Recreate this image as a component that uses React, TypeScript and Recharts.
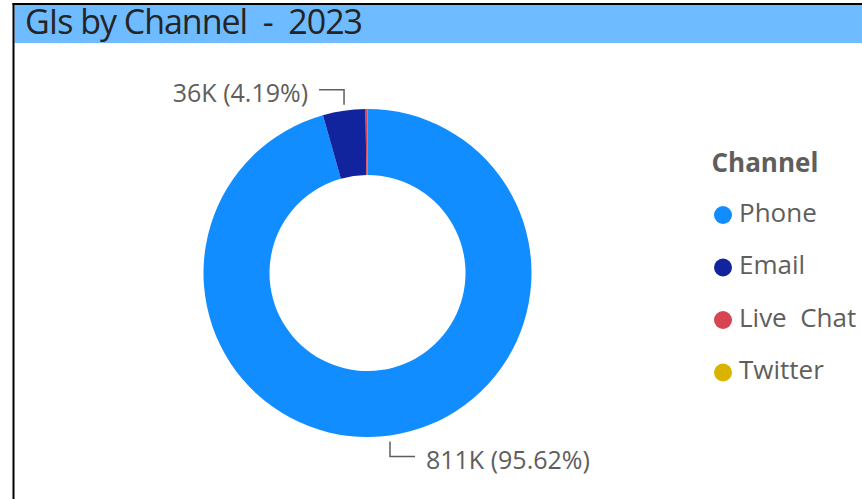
import React from 'react';
import { PieChart, Pie, Cell, Legend } from 'recharts';

const categories = ['Phone', 'Email', 'Live  Chat', 'Twitter'];
const values = [811000, 35540, 1600, 10];
const colors = ['#118DFF', '#12239E', '#D64550', '#D9B300'];
const titleText = 'GIs by Channel  -  2023';
const legendTitle = 'Channel';

const data = categories.map((name, i) => ({ name, value: values[i] }));

const FONT = '"Open Sans", "Noto Sans", sans-serif';
const GREY = '#605E5C';
const RAD = Math.PI / 180;

const fmtK = (v: number) => Math.round(v / 1000) + 'K';

const renderLabel = (props: any) => {
  const { cx, cy, midAngle, outerRadius, percent, value } = props;
  if (percent < 0.02) return null;
  const cos = Math.cos(-midAngle * RAD);
  const sin = Math.sin(-midAngle * RAD);
  const px = cx + outerRadius * cos;
  const py = cy + outerRadius * sin;
  const sy = sin < 0 ? -1 : 1;
  const sx = cos < 0 ? -1 : 1;
  const y0 = py + sy * 6;
  const y1 = y0 + sy * 15;
  const x1 = px + sx * 25;
  return (
    <g>
      <polyline
        points={`${px},${y0} ${px},${y1} ${x1},${y1}`}
        fill="none"
        stroke={GREY}
        strokeWidth={1.5}
      />
      <text
        x={x1 + sx * 11}
        y={y1 + 12.5}
        textAnchor={sx < 0 ? 'end' : 'start'}
        fontFamily={FONT}
        fontSize={25}
        fill={GREY}
      >
        {`${fmtK(value)} (${(percent * 100).toFixed(2)}%)`}
      </text>
    </g>
  );
};

const renderLegend = () => (
  <svg width={162} height={260} style={{ display: 'block', overflow: 'visible' }}>
    <text x={11.5} y={31.5} fontFamily={FONT} fontWeight={700} fontSize={26} fill={GREY}>
      {legendTitle}
    </text>
    {categories.map((c, i) => {
      const base = 81.5 + i * 52.5;
      return (
        <g key={c}>
          <circle cx={23} cy={base - 6.5} r={9} fill={colors[i]} />
          <text
            x={39}
            y={base}
            fontFamily={FONT}
            fontSize={26}
            fill={GREY}
            style={{ whiteSpace: 'pre' }}
          >
            {c}
          </text>
        </g>
      );
    })}
  </svg>
);

export default function App() {
  return (
    <div
      style={{
        position: 'absolute',
        left: 0,
        top: 0,
        width: 862,
        height: 499,
        background: '#fff',
        overflow: 'hidden',
      }}
    >
      <svg
        width={862}
        height={499}
        style={{ position: 'absolute', left: 0, top: 0 }}
      >
        <rect x={14.5} y={5} width={847.5} height={38} fill="#6FBBFF" />
        <rect x={12.5} y={3} width={849.5} height={2} fill="#000" />
        <rect x={12.5} y={3} width={2} height={496} fill="#000" />
        <text
          x={25}
          y={34}
          fontFamily={FONT}
          fontSize={34}
          fill="#252423"
          textLength={338}
          lengthAdjust="spacing"
          style={{ whiteSpace: 'pre' }}
        >
          {titleText}
        </text>
      </svg>
      <div style={{ position: 'absolute', left: 0, top: 0 }}>
        <PieChart width={862} height={499} margin={{ top: 0, right: 0, bottom: 0, left: 0 }}>
          <Pie
            data={data}
            dataKey="value"
            nameKey="name"
            cx={367.5}
            cy={273}
            innerRadius={98}
            outerRadius={164}
            startAngle={90}
            endAngle={-270}
            stroke="none"
            label={renderLabel}
            labelLine={false}
            isAnimationActive={false}
          >
            {data.map((d, i) => (
              <Cell key={d.name} fill={colors[i]} />
            ))}
          </Pie>
          <Legend
            content={renderLegend}
            wrapperStyle={{ left: 700, top: 140, width: 162, height: 260 }}
          />
        </PieChart>
      </div>
    </div>
  );
}
